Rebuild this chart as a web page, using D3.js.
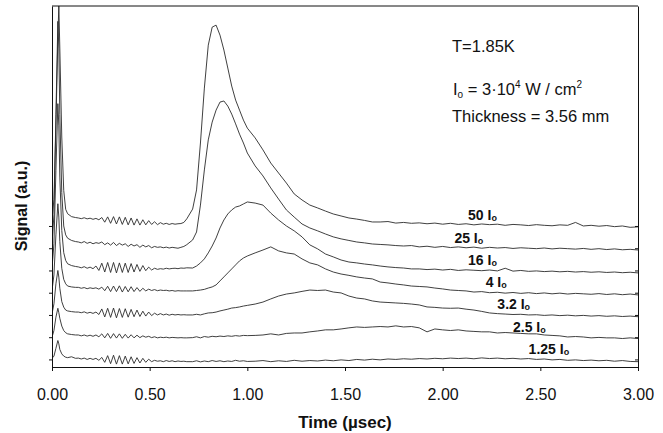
<!DOCTYPE html>
<html>
<head>
<meta charset="utf-8">
<script src="https://cdn.jsdelivr.net/npm/d3@7"></script>
<style>
    body { margin: 0; background: #fff; }
    svg { display: block; font-family: "Liberation Sans", Arial, sans-serif; }
</style>
</head>
<body>
<div id="chart"></div>
<script>
// sample times (µsec), shared by every trace
const times = [
    0, 0.01, 0.02, 0.03, 0.035, 0.04, 0.05, 0.06, 0.07, 0.08, 0.10, 0.12,
    0.135, 0.15, 0.165, 0.18, 0.195, 0.21, 0.225, 0.24, 0.255, 0.27, 0.285, 0.3, 0.315, 0.33, 0.345, 0.36, 0.375,
    0.39, 0.405, 0.42, 0.435, 0.45, 0.465, 0.48, 0.495, 0.51, 0.525, 0.54, 0.555, 0.57, 0.585, 0.6, 0.615, 0.63,
    0.645, 0.66, 0.675, 0.69,
    0.72, 0.74, 0.76, 0.78, 0.8, 0.82, 0.84, 0.86, 0.88, 0.9, 0.92, 0.94, 0.96, 0.98, 1.0,
    1.04, 1.08, 1.12, 1.16, 1.2, 1.24, 1.28, 1.32, 1.36, 1.4, 1.44, 1.48, 1.52, 1.56, 1.6, 1.64, 1.68, 1.72, 1.76,
    1.8, 1.84, 1.88, 1.92, 1.96, 2.0, 2.04, 2.08, 2.12, 2.16, 2.2, 2.24, 2.28, 2.32, 2.36, 2.4, 2.44, 2.48, 2.52,
    2.56, 2.6, 2.64, 2.68, 2.72, 2.76, 2.8, 2.84, 2.88, 2.92, 2.96, 3.0
];

const seriesNames = ['50', '25', '16', '4', '3.2', '2.5', '1.25'];
const offsets = [6, 5, 4, 3, 2, 1, 0];          // vertical stacking of the traces (a.u.)
const labelTimes = [2.13, 2.06, 2.13, 2.22, 2.28, 2.36, 2.44];

// signal of each trace above its own baseline (a.u.)
const s50 = [
    0.3, 1.2, 4.5, 8.5, 9.89, 8.0, 4.0, 1.6, 0.75, 0.55, 0.42, 0.38,
    0.36, 0.33, 0.37, 0.32, 0.35, 0.3, 0.34, 0.28, 0.38, 0.17, 0.41, 0.12, 0.42, 0.09, 0.41, 0.07, 0.39,
    0.05, 0.36, 0.04, 0.32, 0.04, 0.28, 0.05, 0.24, 0.07, 0.19, 0.06, 0.15, 0.08, 0.12, 0.07, 0.11, 0.08,
    0.1, 0.11, 0.16, 0.32,
    0.76, 1.62, 3.73, 6.2, 8.13, 8.94, 9.03, 8.58, 7.91, 7.1, 6.29, 5.66, 5.21, 4.76, 4.4,
    3.96, 3.42, 2.83, 2.38, 1.93, 1.44, 1.17, 0.94, 0.81, 0.67, 0.54, 0.45, 0.36, 0.31, 0.25, 0.18, 0.18, 0.2, 0.13,
    0.16, 0.12, 0.14, 0.1, 0.13, 0.08, 0.12, 0.07, 0.1, 0.05, 0.09, 0.06, 0.08, 0.03, 0.07, 0.05, 0.02, 0.06, 0.03,
    0.01, 0.05, 0.03, 0.16, 0.0, 0.03, -0.01, 0.02, -0.03, 0.0, -0.06, -0.04
];
const s25 = [
    0.2, 1.5, 6.0, 10.2, 9.0, 6.0, 2.5, 1.0, 0.6, 0.45, 0.35, 0.3,
    0.28, 0.24, 0.3, 0.22, 0.27, 0.2, 0.25, 0.22, 0.28, 0.16, 0.24, 0.14, 0.26, 0.12, 0.22, 0.14, 0.2,
    0.08, 0.18, 0.1, 0.16, 0.04, 0.14, 0.06, 0.12, 0.02, 0.08, 0.04, 0.06, 0.02, 0.05, 0.01, 0.04, 0.02,
    0.0, 0.04, 0.08, 0.16,
    0.37, 0.73, 1.94, 3.52, 4.87, 5.67, 6.21, 6.57, 6.62, 6.39, 6.03, 5.59, 5.13, 4.73, 4.28,
    3.7, 3.25, 2.71, 2.21, 1.72, 1.4, 1.09, 0.91, 0.78, 0.64, 0.51, 0.42, 0.35, 0.28, 0.24, 0.19, 0.17, 0.15, 0.12,
    0.1, 0.12, 0.06, 0.09, 0.04, 0.08, 0.03, 0.06, 0.02, 0.05, 0.0, 0.04, 0.01, 0.03, -0.01, 0.02, 0.0, -0.02, 0.01,
    -0.03, 0.0, -0.02, -0.04, -0.01, -0.05, -0.02, -0.06, -0.03, -0.07, -0.05, -0.08
];
const s16 = [
    0.1, 1.2, 4.5, 7.5, 6.5, 4.2, 1.8, 0.8, 0.45, 0.3, 0.22, 0.18,
    0.16, 0.12, 0.17, 0.1, 0.15, 0.08, 0.2, 0.0, 0.33, -0.07, 0.36, -0.09, 0.36, -0.11, 0.34, -0.09, 0.33,
    -0.09, 0.31, -0.07, 0.27, -0.04, 0.22, -0.01, 0.15, 0.02, 0.1, 0.05, 0.08, 0.06, 0.1, 0.07, 0.09, 0.1,
    0.08, 0.11, 0.1, 0.12,
    0.11, 0.2, 0.34, 0.52, 0.79, 1.1, 1.46, 1.91, 2.27, 2.54, 2.72, 2.85, 2.9, 2.99, 3.08,
    3.03, 2.94, 2.58, 2.27, 2.0, 1.78, 1.51, 1.15, 0.97, 0.74, 0.61, 0.47, 0.38, 0.34, 0.29, 0.25, 0.2, 0.16, 0.13,
    0.11, 0.07, 0.07, 0.04, 0.06, 0.02, 0.05, 0.0, 0.03, 0.01, -0.01, 0.02, -0.02, 0.1, -0.03, 0.0, -0.04, -0.02, -0.05,
    -0.03, -0.06, -0.04, -0.07, -0.05, -0.08, -0.06, -0.09, -0.07, -0.1, -0.08, -0.11
];
const s4 = [
    0.1, 0.8, 2.6, 4.0, 3.4, 2.3, 1.1, 0.6, 0.4, 0.3, 0.26, 0.24,
    0.24, 0.2, 0.23, 0.18, 0.22, 0.19, 0.22, 0.16, 0.25, 0.09, 0.29, 0.05, 0.3, 0.05, 0.31, 0.03, 0.28,
    0.04, 0.27, 0.05, 0.23, 0.06, 0.2, 0.08, 0.16, 0.1, 0.14, 0.09, 0.12, 0.1, 0.11, 0.08, 0.1, 0.07,
    0.09, 0.08, 0.08, 0.08,
    0.08, 0.1, 0.12, 0.15, 0.21, 0.26, 0.35, 0.53, 0.71, 0.89, 1.07, 1.25, 1.43, 1.56, 1.65,
    1.79, 1.92, 2.06, 1.88, 1.79, 1.74, 1.52, 1.34, 1.25, 1.07, 0.93, 0.84, 0.78, 0.71, 0.66, 0.62, 0.48, 0.44, 0.39,
    0.35, 0.3, 0.28, 0.26, 0.21, 0.17, 0.12, 0.1, 0.08, 0.03, 0.05, 0.0, 0.02, -0.02, 0.01, -0.03, 0.0, -0.04, -0.01,
    -0.05, -0.02, -0.06, -0.03, -0.05, -0.07, -0.04, -0.08, -0.05, -0.09, -0.06, -0.1
];
const s32 = [
    0.05, 0.5, 1.4, 2.0, 1.7, 1.2, 0.6, 0.35, 0.22, 0.18, 0.15, 0.13,
    0.13, 0.1, 0.14, 0.08, 0.12, 0.07, 0.13, 0.02, 0.27, -0.09, 0.3, -0.11, 0.31, -0.13, 0.29, -0.11, 0.28,
    -0.1, 0.25, -0.08, 0.22, -0.07, 0.17, -0.05, 0.13, -0.03, 0.08, 0.0, 0.06, 0.0, 0.04, -0.01, 0.03, 0.0,
    0.02, 0.0, 0.01, 0.0,
    0.0, 0.03, 0.0, 0.05, 0.09, 0.1, 0.13, 0.18, 0.22, 0.26, 0.31, 0.33, 0.36, 0.4, 0.43,
    0.49, 0.58, 0.72, 0.85, 0.94, 0.99, 1.06, 1.12, 1.1, 1.12, 1.03, 0.99, 0.85, 0.76, 0.72, 0.63, 0.58, 0.56, 0.54,
    0.52, 0.49, 0.45, 0.36, 0.34, 0.31, 0.3, 0.31, 0.26, 0.22, 0.16, 0.09, 0.06, 0.04, 0.02, 0.03, 0.0, 0.01, -0.02,
    0.0, -0.03, -0.01, -0.04, -0.02, -0.05, -0.03, -0.06, -0.04, -0.07, -0.05, -0.08
];
const s25b = [
    0.0, 0.3, 0.9, 1.3, 1.1, 0.85, 0.5, 0.3, 0.2, 0.15, 0.12, 0.1,
    0.1, 0.06, 0.1, 0.05, 0.09, 0.04, 0.1, 0.02, 0.15, -0.03, 0.17, -0.05, 0.16, -0.04, 0.15, -0.05, 0.13,
    -0.04, 0.11, -0.03, 0.09, -0.02, 0.06, 0.0, 0.04, -0.02, 0.02, -0.03, 0.0, -0.02, 0.0, -0.03, -0.01, -0.02,
    -0.03, -0.02, -0.03, -0.03,
    -0.02, 0.02, -0.03, 0.03, 0.0, 0.04, 0.02, 0.05, 0.03, 0.06, 0.04, 0.07, 0.05, 0.08, 0.07,
    0.08, 0.1, 0.15, 0.1, 0.17, 0.19, 0.19, 0.24, 0.28, 0.33, 0.33, 0.37, 0.42, 0.46, 0.44, 0.46, 0.48, 0.46, 0.51,
    0.46, 0.48, 0.42, 0.24, 0.37, 0.33, 0.3, 0.33, 0.28, 0.26, 0.24, 0.24, 0.19, 0.21, 0.19, 0.17, 0.15, 0.15, 0.1,
    0.08, 0.06, 0.01, 0.03, 0.01, -0.03, -0.01, -0.03, -0.03, -0.06, -0.03, -0.06
];
const s125 = [
    0.05, 0.15, 0.5, 0.85, 0.7, 0.45, 0.25, 0.15, 0.1, 0.08, 0.12, 0.05,
    0.06, 0.02, 0.06, 0.0, 0.05, 0.0, 0.05, -0.04, 0.09, -0.13, 0.17, -0.19, 0.19, -0.21, 0.17, -0.21, 0.15,
    -0.2, 0.12, -0.18, 0.08, -0.16, 0.05, -0.13, 0.01, -0.1, -0.04, -0.08, -0.06, -0.1, -0.05, -0.09, -0.06, -0.1,
    -0.07, -0.09, -0.08, -0.1,
    -0.1, -0.06, -0.11, -0.07, -0.1, -0.05, -0.09, -0.06, -0.1, -0.07, -0.09, -0.04, -0.08, -0.06, -0.09,
    -0.08, -0.05, -0.1, -0.06, -0.09, -0.04, -0.08, -0.05, -0.07, -0.03, -0.06, -0.02, -0.05, 0.0, -0.03, 0.01, -0.02, 0.02, 0.0,
    0.03, 0.01, 0.04, 0.02, 0.05, 0.03, 0.06, 0.04, 0.06, 0.03, 0.07, 0.04, 0.06, 0.03, 0.05, 0.02, 0.04, 0.0, 0.02,
    -0.02, 0.0, -0.04, -0.02, -0.05, -0.03, -0.06, -0.04, -0.08, -0.05, -0.09, -0.1
];
const signals = [s50, s25, s16, s4, s32, s25b, s125];

const xTicks = [0, 0.5, 1.0, 1.5, 2.0, 2.5, 3.0];

const width = 663;
const height = 433;
const margin = { top: 6, right: 25, bottom: 66, left: 52 };
const plotW = width - margin.left - margin.right;
const plotH = height - margin.top - margin.bottom;

const svg = d3.select('#chart')
    .append('svg')
    .attr('width', width)
    .attr('height', height);

const x = d3.scaleLinear().domain([0, 3]).range([0, plotW]);
const y = d3.scaleLinear().domain([-0.34, 15.89]).range([plotH, 0]);

const g = svg.append('g')
    .attr('transform', `translate(${margin.left},${margin.top})`);

g.append('clipPath').attr('id', 'plot-clip')
    .append('rect').attr('width', plotW).attr('height', plotH);

// traces
const line = d3.line()
    .x(d => x(d[0]))
    .y(d => y(d[1]));

signals.forEach((s, i) => {
    if (s.length !== times.length) console.error('length mismatch', seriesNames[i], s.length, times.length);
    const pts = times.map((t, j) => [t, offsets[i] + s[j]]);
    g.append('path')
        .datum(pts)
        .attr('clip-path', 'url(#plot-clip)')
        .attr('fill', 'none')
        .attr('stroke', '#2a2a2a')
        .attr('stroke-width', 0.9)
        .attr('stroke-linejoin', 'round')
        .attr('d', line);
});

// axes
const xAxis = g.append('g')
    .attr('transform', `translate(0,${plotH})`)
    .call(d3.axisBottom(x).tickValues(xTicks).tickFormat(d3.format('.2f')).tickSizeInner(4).tickSizeOuter(0));
xAxis.selectAll('text')
    .attr('dy', null)
    .attr('y', 33)
    .style('font-size', '16px')
    .style('font-family', '"Liberation Sans", Arial, sans-serif')
    .attr('fill', '#111');

g.append('g')
    .call(d3.axisLeft(y).tickValues(offsets).tickFormat('').tickSizeInner(3).tickSizeOuter(0));

g.append('g')
    .attr('transform', `translate(${plotW},0)`)
    .call(d3.axisRight(y).tickValues(offsets).tickFormat('').tickSizeInner(-3).tickSizeOuter(0));

g.selectAll('.domain').attr('stroke', '#111');
g.selectAll('.tick line').attr('stroke', '#111');

// top border of the frame
g.append('line')
    .attr('x1', 0).attr('x2', plotW)
    .attr('y1', 0).attr('y2', 0)
    .attr('stroke', '#111');

// trace labels
seriesNames.forEach((name, i) => {
    const t = g.append('text')
        .attr('x', x(labelTimes[i]))
        .attr('y', y(offsets[i] + 0.25))
        .style('font-size', '14px')
        .style('font-weight', 'bold')
        .attr('fill', '#111');
    t.append('tspan').text(name + ' I');
    t.append('tspan').text('o').style('font-size', '9px').attr('dy', 1);
});

// annotations
const note = g.append('g').attr('fill', '#111').style('font-size', '16.5px');
note.append('text').attr('x', 400).attr('y', 46).text('T=1.85K');

const io = note.append('text').attr('x', 401).attr('y', 89);
io.append('tspan').text('I');
io.append('tspan').text('o').style('font-size', '10px').attr('dy', 3);
io.append('tspan').text(' = 3·10').attr('dy', -3);
io.append('tspan').text('4').style('font-size', '10px').attr('dy', -7);
io.append('tspan').text(' W / cm').attr('dy', 7);
io.append('tspan').text('2').style('font-size', '10px').attr('dy', -7);

note.append('text').attr('x', 400).attr('y', 116).text('Thickness = 3.56 mm');

// axis titles
svg.append('text')
    .attr('x', margin.left + x(1.5))
    .attr('y', 428)
    .attr('text-anchor', 'middle')
    .style('font-size', '17px')
    .style('font-weight', 'bold')
    .attr('fill', '#111')
    .text('Time (µsec)');

svg.append('text')
    .attr('transform', 'translate(27,206) rotate(-90)')
    .attr('text-anchor', 'middle')
    .style('font-size', '16px')
    .style('font-weight', 'bold')
    .attr('fill', '#111')
    .text('Signal (a.u.)');
</script>
</body>
</html>
